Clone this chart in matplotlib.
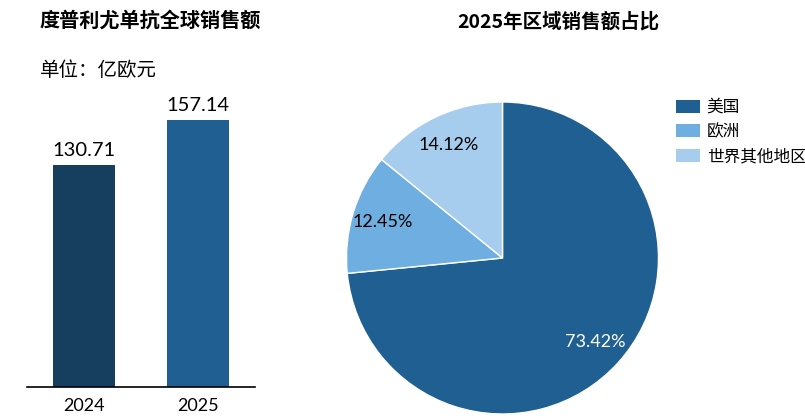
import matplotlib.pyplot as plt
from matplotlib.patches import Patch

plt.rcParams['font.family'] = ['Lato', 'Noto Sans CJK SC', 'DejaVu Sans']

# bar chart data
years = ['2024', '2025']
sales = [130.71, 157.14]
bar_colors = ['#163E5F', '#1F5F92']

# pie chart data
regions = ['美国', '欧洲', '世界其他地区']
shares = [73.42, 12.45, 14.12]
pie_colors = ['#1F5F92', '#6FAEE0', '#A6CDEE']

W, H = 805, 420
fig = plt.figure(figsize=(W / 100, H / 100), dpi=100)


def px_axes(x0, y0, x1, y1):
    # axes from pixel box (top-left origin)
    return fig.add_axes([x0 / W, 1 - y1 / H, (x1 - x0) / W, (y1 - y0) / H])


# --- left: bars
ax = px_axes(27, 81.5, 255, 387)
xs = range(len(years))
bars = ax.bar(xs, sales, width=0.55, color=bar_colors)
for b, v in zip(bars, sales):
    ax.text(b.get_x() + b.get_width() / 2, v + 3.5, f'{v:.2f}',
            ha='center', va='bottom', fontsize=14.5)
ax.set_xlim(-0.5, 1.5)
ax.set_ylim(0, 180)
ax.set_xticks(list(xs))
ax.set_xticklabels(years, fontsize=13)
ax.tick_params(axis='x', length=0, pad=8)
ax.set_yticks([])
for s in ['left', 'right', 'top']:
    ax.spines[s].set_visible(False)
ax.spines['bottom'].set_linewidth(1.2)

fig.text(40 / W, 1 - 20 / H, '度普利尤单抗全球销售额', fontsize=14.5, fontweight='bold',
         ha='left', va='center', family=['Noto Sans CJK SC'])
fig.text(40 / W, 1 - 70 / H, '单位：亿欧元', fontsize=14,
         ha='left', va='center', family=['Noto Sans CJK SC'])

# --- right: pie
pax = px_axes(346.5, 102, 658.5, 414)
wedges, texts, autotexts = pax.pie(
    shares, colors=pie_colors, startangle=90, counterclock=False,
    autopct='%.2f%%', pctdistance=0.8,
    wedgeprops=dict(edgecolor='white', linewidth=1))
for t, v in zip(autotexts, shares):
    t.set_text(f'{v:.2f}%')
    t.set_fontsize(13)
autotexts[0].set_color('white')
pax.set_xlim(-1, 1)
pax.set_ylim(-1, 1)

fig.text(558 / W, 1 - 22 / H, '2025年区域销售额占比', fontsize=14, fontweight='bold',
         ha='center', va='center', family=['Noto Sans CJK SC'])

handles = [Patch(facecolor=c) for c in pie_colors]
fig.legend(handles, regions, loc='upper left', bbox_to_anchor=(661 / W, 1 - 84 / H),
           frameon=False, handlelength=1.44, handleheight=0.84,
           labelspacing=0.45, handletextpad=0.4, borderpad=0.4,
           prop={'family': ['Noto Sans CJK SC'], 'size': 12})

fig.savefig('out.png', dpi=100)
